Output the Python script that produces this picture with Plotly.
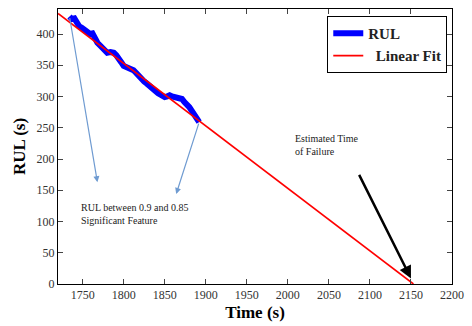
import plotly.graph_objects as go

rul_time = [1734, 1737, 1740, 1743, 1746, 1749, 1752, 1756, 1759, 1762, 1765, 1768, 1771, 1774,
            1777, 1780, 1784, 1788, 1791, 1794, 1797, 1800, 1804, 1808, 1812, 1815, 1818, 1822,
            1825, 1828, 1831, 1834, 1838, 1842, 1846, 1850, 1853, 1856, 1859, 1862, 1865, 1868,
            1871, 1874, 1877, 1880, 1883, 1886, 1889, 1892]
rul_vals = [428, 424, 425, 418, 412, 410, 407, 401, 400, 401, 392, 386, 382, 378,
            373, 370, 371, 370, 366, 362, 355, 349, 347, 344, 342, 338, 333, 328,
            324, 321, 317, 313, 308, 305, 302, 299, 300, 302, 300, 299, 300, 299,
            296, 291, 288, 283, 277, 270, 265, 259]

# Linear fit endpoints
fit_time = [1720, 2153]
fit_vals = [433, 0]

x_ticks = [1750, 1800, 1850, 1900, 1950, 2000, 2050, 2100, 2150, 2200]
y_ticks = [0, 50, 100, 150, 200, 250, 300, 350, 400]

serif = "Liberation Serif, Times New Roman, serif"

fig = go.Figure()
fig.add_trace(go.Scatter(x=rul_time, y=rul_vals, mode="lines", name="RUL",
                         line=dict(color="#0000ff", width=6)))
fig.add_trace(go.Scatter(x=fit_time, y=fit_vals, mode="lines", name="  Linear Fit",
                         line=dict(color="#ff0000", width=1.6)))

annots = [
    # blue arrows
    dict(x=1768, y=163, ax=1734, ay=428),
    dict(x=1864, y=144, ax=1892, ay=259),
]
for a in annots:
    fig.add_annotation(x=a["x"], y=a["y"], ax=a["ax"], ay=a["ay"], xref="x", yref="y",
                       axref="x", ayref="y", text="", showarrow=True, arrowhead=2,
                       arrowsize=1, arrowwidth=1.2, arrowcolor="#6f9bd1")
fig.add_annotation(x=2150, y=9, ax=2086, ay=177, xref="x", yref="y", axref="x", ayref="y",
                   text="", showarrow=True, arrowhead=2, arrowsize=1, arrowwidth=2.5,
                   arrowcolor="#000000")
fig.add_annotation(x=1745, y=112, xref="x", yref="y", xanchor="left", yanchor="middle",
                   text="RUL between 0.9 and 0.85<br>Significant Feature", showarrow=False,
                   align="left", font=dict(family=serif, size=10, color="#222"))
fig.add_annotation(x=2006, y=222, xref="x", yref="y", xanchor="left", yanchor="middle",
                   text="Estimated Time<br>of Failure", showarrow=False,
                   align="left", font=dict(family=serif, size=10, color="#222"))

fig.update_layout(
    width=472, height=326,
    margin=dict(l=58, r=13, t=8, b=40),
    paper_bgcolor="white", plot_bgcolor="white",
    font=dict(family=serif, color="#222"),
    showlegend=True,
    legend=dict(x=0.988, y=0.975, xanchor="right", yanchor="top",
                bgcolor="white", bordercolor="black", borderwidth=1,
                font=dict(family=serif, size=15, color="#222", weight="bold"),
                itemwidth=30, tracegroupgap=0),
    xaxis=dict(range=[1720, 2200], tickvals=x_ticks, ticks="inside", ticklen=5,
               showgrid=False, zeroline=False, showline=True, linecolor="black",
               linewidth=1, mirror="ticks",
               tickfont=dict(family=serif, size=12, color="#333"),
               title=dict(text="<b>Time (s)</b>", standoff=4,
                          font=dict(family=serif, size=17, color="black"))),
    yaxis=dict(range=[0, 440], tickvals=y_ticks, ticks="inside", ticklen=5,
               showgrid=False, zeroline=False, showline=True, linecolor="black",
               linewidth=1, mirror="ticks",
               tickfont=dict(family=serif, size=12, color="#333"),
               title=dict(text="<b>RUL (s)</b>", standoff=6,
                          font=dict(family=serif, size=17, color="black"))),
)

fig.write_html("out.html")
